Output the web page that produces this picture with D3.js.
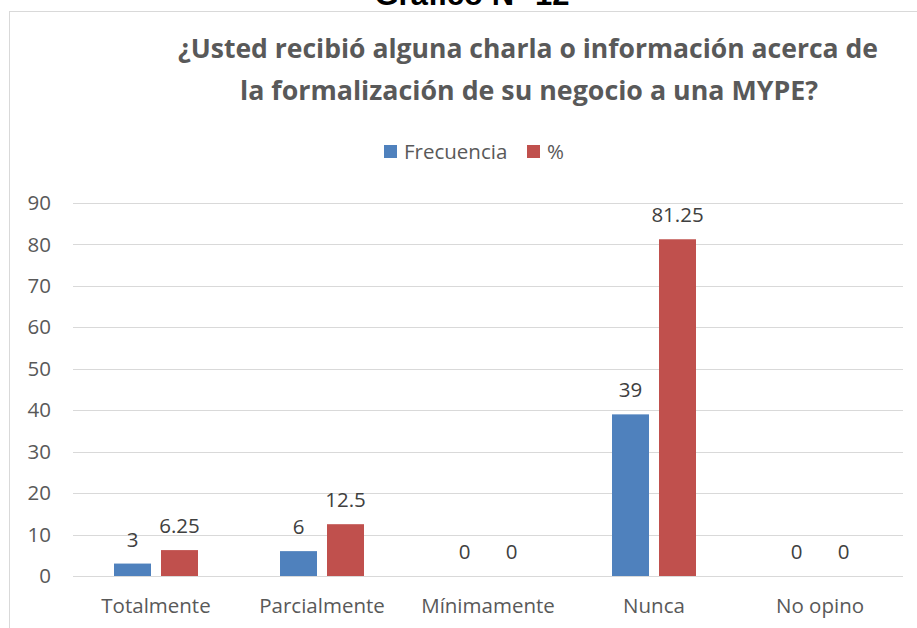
<!DOCTYPE html>
<html><head><meta charset="utf-8">
<script src="https://cdn.jsdelivr.net/npm/d3@7"></script>
<style>body{margin:0;background:#fff;}svg{display:block;}</style>
</head><body>
<svg id="c" width="917" height="628"></svg>
<script>
const categories = ["Totalmente", "Parcialmente", "Mínimamente", "Nunca", "No opino"];
const frecuencia = [3, 6, 0, 39, 0];
const porcentaje = [6.25, 12.5, 0, 81.25, 0];
const seriesNames = ["Frecuencia", "%"];
const yTicks = [0, 10, 20, 30, 40, 50, 60, 70, 80, 90];
const colors = ["#4f81bd", "#c0504d"];

const svg = d3.select("#c");
const font = "'Open Sans', 'Noto Sans', sans-serif";
const fs = 20.5;

// top caption (cut off)
svg.append("text").attr("x", 472).attr("y", 5).attr("text-anchor", "middle")
  .attr("font-family", "'Liberation Sans', Arial, sans-serif").attr("font-weight", "bold")
  .attr("font-size", 31).attr("fill", "#000").text("Gráfico N° 12");

// frame
svg.append("rect").attr("x", 9.5).attr("y", 11.5).attr("width", 930).attr("height", 640)
  .attr("fill", "#fff").attr("stroke", "#d9d9d9").attr("stroke-width", 1);

// title
const title = svg.append("text").attr("text-anchor", "middle")
  .attr("font-family", font).attr("font-weight", "bold").attr("font-size", 27).attr("fill", "#595959");
title.append("tspan").attr("x", 528).attr("y", 58).attr("textLength", 700).attr("lengthAdjust", "spacingAndGlyphs")
  .text("¿Usted recibió alguna charla o información acerca de");
title.append("tspan").attr("x", 529).attr("y", 100).attr("textLength", 578).attr("lengthAdjust", "spacingAndGlyphs")
  .text("la formalización de su negocio a una MYPE?");

const x0 = d3.scaleBand().domain(categories).range([73, 903]);
const y = d3.scaleLinear().domain([0, 90]).range([576, 203]);

// gridlines
svg.append("g").selectAll("line").data(yTicks).join("line")
  .attr("x1", 73).attr("x2", 903)
  .attr("y1", d => Math.round(y(d)) + 0.5).attr("y2", d => Math.round(y(d)) + 0.5)
  .attr("stroke", "#d9d9d9").attr("stroke-width", 1);

// y tick labels
const yAxis = d3.axisLeft(y).tickValues(yTicks).tickSize(0).tickPadding(0);
const yg = svg.append("g").attr("transform", "translate(51,0)").call(yAxis);
yg.select(".domain").remove();
yg.selectAll("text").attr("font-family", font).attr("font-size", fs).attr("fill", "#595959");

// x axis labels
const xAxis = d3.axisBottom(x0).tickSize(0).tickPadding(0);
const xg = svg.append("g").attr("transform", "translate(0,598)").call(xAxis);
xg.select(".domain").remove();
xg.selectAll("text").attr("font-family", font).attr("font-size", fs).attr("fill", "#595959");

const x1 = d3.scaleBand().domain([0, 1]).range([-42, 42]).paddingInner(0.213);

const data = categories.map((c, i) => ({c, vals: [frecuencia[i], porcentaje[i]]}));
const groups = svg.append("g").selectAll("g").data(data).join("g")
  .attr("transform", d => `translate(${x0(d.c) + x0.bandwidth() / 2},0)`);

groups.selectAll("rect").data(d => d.vals.map((v, k) => ({v, k}))).join("rect")
  .attr("x", d => x1(d.k)).attr("width", x1.bandwidth())
  .attr("y", d => y(d.v)).attr("height", d => y(0) - y(d.v))
  .attr("fill", d => colors[d.k]);

groups.selectAll("text.lbl").data(d => d.vals.map((v, k) => ({v, k}))).join("text")
  .attr("class", "lbl")
  .attr("x", d => x1(d.k) + x1.bandwidth() / 2).attr("y", d => y(d.v) - 17)
  .attr("text-anchor", "middle").attr("font-family", font).attr("font-size", fs)
  .attr("fill", "#404040").text(d => d.v);

// legend
const leg = svg.append("g");
const legX = [384, 527];
seriesNames.forEach((n, k) => {
  leg.append("rect").attr("x", legX[k]).attr("y", 145).attr("width", 13).attr("height", 13).attr("fill", colors[k]);
  leg.append("text").attr("x", legX[k] + 20).attr("y", 159).attr("font-family", font)
    .attr("font-size", fs).attr("fill", "#595959").text(n);
});
</script>
</body></html>
